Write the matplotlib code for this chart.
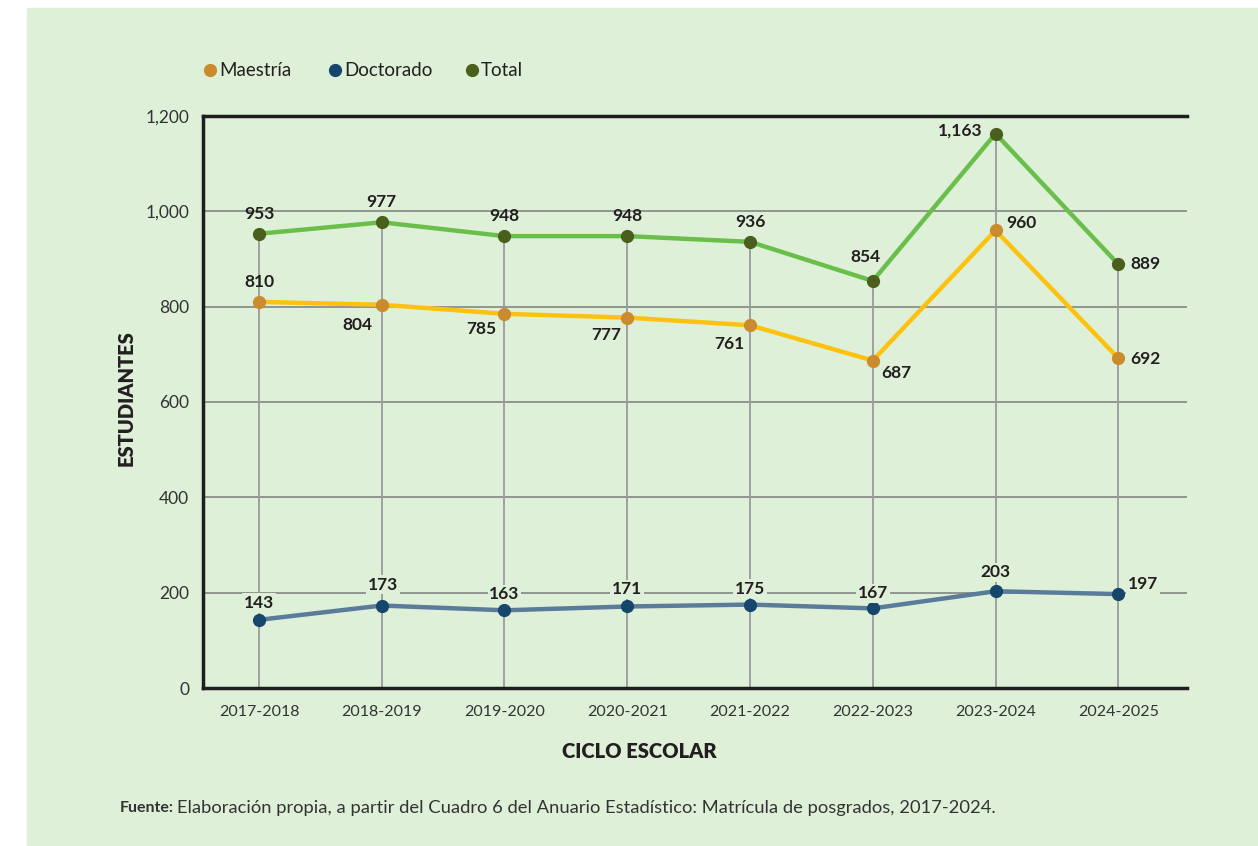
import matplotlib
matplotlib.use("Agg")
import matplotlib.pyplot as plt
from matplotlib.patches import Rectangle
from matplotlib.lines import Line2D

plt.rcParams['font.family'] = ['Lato', 'DejaVu Sans']

# ---- datos ----
ciclos = ["2017-2018", "2018-2019", "2019-2020", "2020-2021",
          "2021-2022", "2022-2023", "2023-2024", "2024-2025"]
maestria = [810, 804, 785, 777, 761, 687, 960, 692]
doctorado = [143, 173, 163, 171, 175, 167, 203, 197]
total = [953, 977, 948, 948, 936, 854, 1163, 889]
y_ticks = [0, 200, 400, 600, 800, 1000, 1200]

# desplazamientos de etiquetas (px) por punto
off_total = [(0, 20), (0, 20), (0, 20), (0, 20), (0, 20), (-7, 24), (-35, 3), (27, 0)]
off_maes = [(0, 20), (-24, -20), (-23, -15), (-21, -17), (-21, -19), (24, -12), (26, 7), (27, -1)]
off_doc = [(0, 17), (1, 21), (0, 16), (0, 17), (0, 16), (0, 15), (0, 19), (25, 10)]

BG = "#dff0d9"
TXT = "#231f20"
C_TOT_L, C_TOT_M = "#6abf4b", "#4b5f1c"
C_MAE_L, C_MAE_M = "#fdc210", "#c98b2c"
C_DOC_L, C_DOC_M = "#5b7b9a", "#17466d"

fig = plt.figure(figsize=(12.58, 8.46), dpi=100)
fig.patches.append(Rectangle((27 / 1258, 0), 1, (846 - 8) / 846,
                             transform=fig.transFigure, color=BG, zorder=-10))

ax = fig.add_axes([203 / 1258, 158 / 846, (1187 - 203) / 1258, (688 - 116) / 846])
ax.set_facecolor("none")
x = list(range(len(ciclos)))
ax.set_xlim(-0.456, 7.56)
ax.set_ylim(0, 1200)

for yv in y_ticks[1:-1]:
    ax.axhline(yv, color="#7d7d7d", lw=1.1, zorder=1)
ax.vlines(x, 0, total, color="#9a9a9a", lw=1.3, zorder=1)

for vals, lc, mc in [(total, C_TOT_L, C_TOT_M), (maestria, C_MAE_L, C_MAE_M),
                     (doctorado, C_DOC_L, C_DOC_M)]:
    ax.plot(x, vals, color=lc, lw=3.2, zorder=3, solid_capstyle="round")
    ax.plot(x, vals, ls="", marker="o", ms=8.5, color=mc, zorder=4)

def etiquetar(vals, offs, bbox=None):
    for xi, v, (dx, dy) in zip(x, vals, offs):
        ax.annotate(f"{v:,}", (xi, v), xytext=(dx * 0.72, dy * 0.72),
                    textcoords="offset points", ha="center", va="center",
                    fontsize=12.5, fontweight="bold", color=TXT, zorder=5,
                    bbox=bbox)

etiquetar(total, off_total)
etiquetar(maestria, off_maes)
etiquetar(doctorado, off_doc, bbox=dict(facecolor=BG, edgecolor="none", pad=1.2))

for s in ["left", "bottom", "top"]:
    ax.spines[s].set_linewidth(2.5)
    ax.spines[s].set_color("#1e1e1e")
ax.spines["right"].set_visible(False)

ax.set_yticks(y_ticks)
ax.set_yticklabels([f"{v:,}" for v in y_ticks], fontsize=12.5, color="#333333")
ax.set_xticks(x)
ax.set_xticklabels(ciclos, fontsize=11.5, color="#333333")
ax.tick_params(axis="both", length=0)
ax.tick_params(axis="y", pad=10)
ax.tick_params(axis="x", pad=12)

fig.text(126 / 1258, 1 - 398 / 846, "ESTUDIANTES", rotation=90, ha="center", va="center",
         fontsize=14.5, fontweight="heavy", color=TXT)
fig.text(639 / 1258, 1 - 752 / 846, "CICLO ESCOLAR", ha="center", va="center",
         fontsize=14.5, fontweight="heavy", color=TXT)

# leyenda manual
ley = [("Maestría", C_MAE_M, 210), ("Doctorado", C_DOC_M, 335), ("Total", C_TOT_M, 472)]
for nombre, col, px in ley:
    fig.add_artist(Line2D([px / 1258], [1 - 70 / 846], marker="o", ls="", ms=8.5,
                          color=col, transform=fig.transFigure))
    fig.text((px + 9) / 1258, 1 - 70 / 846, nombre, ha="left", va="center",
             fontsize=13.5, color=TXT)

# fuente
fy = 1 - 808 / 846
t = fig.text(120 / 1258, fy, "Fuente:", ha="left", va="center",
             fontsize=11.5, fontweight="bold", color="#333333")
fig.canvas.draw()
bb = t.get_window_extent()
fig.text((bb.x1 + 3) / 1258, fy,
         "Elaboración propia, a partir del Cuadro 6 del Anuario Estadístico: Matrícula de posgrados, 2017-2024.",
         ha="left", va="center", fontsize=13.2, color="#333333")

fig.savefig("out.png", dpi=100, facecolor="white")
